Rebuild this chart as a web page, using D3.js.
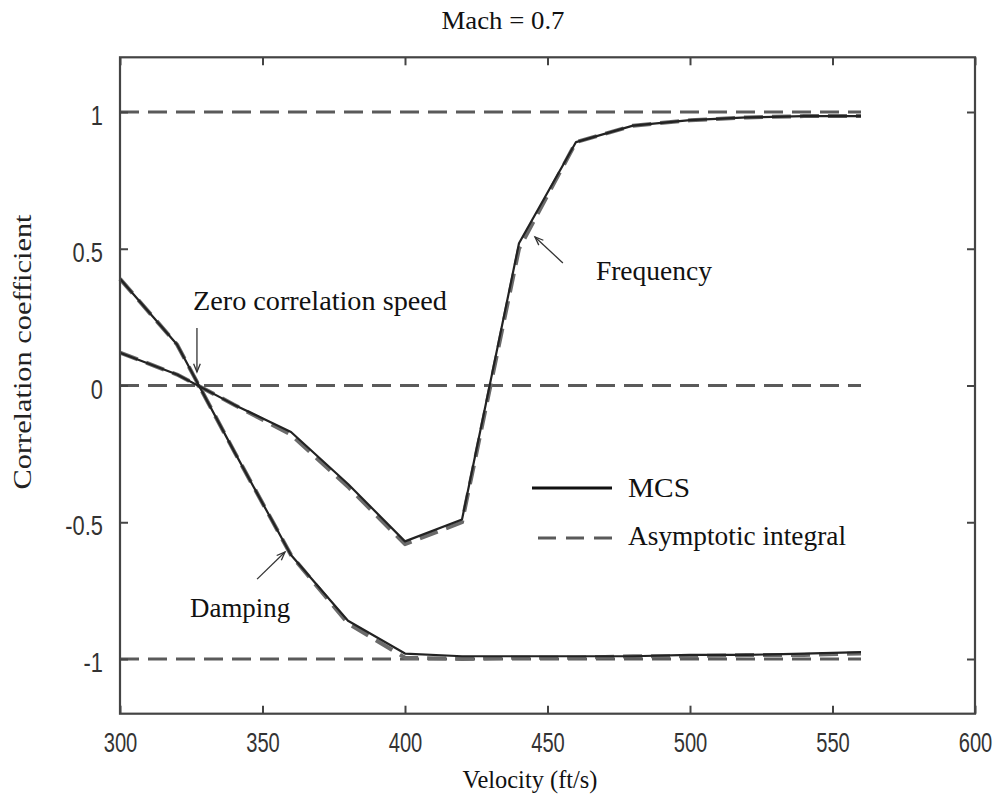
<!DOCTYPE html>
<html>
<head>
<meta charset="utf-8">
<script src="https://cdn.jsdelivr.net/npm/d3@7"></script>
<style>
  html, body { margin: 0; padding: 0; background: #fff; }
  svg { display: block; }
</style>
</head>
<body>
<svg id="chart" width="996" height="799"></svg>
<script>
// ---- data ----
const velocity = [300, 320, 340, 360, 380, 400, 420, 440, 460, 480, 500, 520, 540, 560];
const freqMCS  = [0.12, 0.04, -0.07, -0.17, -0.36, -0.57, -0.49, 0.52, 0.89, 0.95, 0.97, 0.98, 0.985, 0.985];
const freqAsym = [0.12, 0.04, -0.07, -0.18, -0.37, -0.58, -0.50, 0.50, 0.89, 0.95, 0.97, 0.98, 0.985, 0.985];
const dampMCS  = [0.39, 0.15, -0.24, -0.62, -0.86, -0.98, -0.99, -0.99, -0.99, -0.99, -0.985, -0.985, -0.98, -0.975];
const dampAsym = [0.39, 0.15, -0.24, -0.62, -0.87, -0.995, -1.0, -0.995, -0.995, -0.99, -0.99, -0.985, -0.985, -0.98];
const refLevels = [1, 0, -1];
const refRange = [300, 560];
const xTicks = [300, 350, 400, 450, 500, 550, 600];
const yTicks = [-1, -0.5, 0, 0.5, 1];
const yTickLabels = ["-1", "-0.5", "0", "0.5", "1"];
const titleText = "Mach = 0.7";
const xLabel = "Velocity (ft/s)";
const yLabel = "Correlation coefficient";
const seriesNames = ["MCS", "Asymptotic integral"];
// annotations in data coordinates
const annotations = [
  { text: "Zero correlation speed", x: 325.6, y: 0.276, ax0: 327, ay0: 0.21, ax1: 327, ay1: 0.049, w: 254 },
  { text: "Frequency", x: 467.0, y: 0.386, ax0: 455.4, ay0: 0.448, ax1: 445.6, ay1: 0.543, w: 116 },
  { text: "Damping", x: 324.6, y: -0.847, ax0: 348.1, ay0: -0.708, ax1: 357.9, ay1: -0.609, w: 100 }
];

// ---- layout ----
const svg = d3.select("#chart");
const L = 120, T = 57.3, R = 975, B = 713.7;
const x = d3.scaleLinear().domain([300, 600]).range([L, R]);
const y = d3.scaleLinear().domain([-1.2, 1.2]).range([B, T]);

const serif = "'Liberation Serif', 'Times New Roman', serif";
const sans = "'Liberation Sans', Arial, sans-serif";
const frameColor = "#444";

// reference dashed lines
svg.append("g").selectAll("line").data(refLevels).join("line")
  .attr("x1", x(refRange[0])).attr("x2", x(refRange[1]))
  .attr("y1", d => y(d)).attr("y2", d => y(d))
  .attr("stroke", "#5a5a5a").attr("stroke-width", 3)
  .attr("stroke-dasharray", "19,9");

const line = d3.line().x((d, i) => x(velocity[i])).y(d => y(d));

// asymptotic integral (gray dashed, underneath)
[freqAsym, dampAsym].forEach(s => {
  svg.append("path").attr("d", line(s))
    .attr("fill", "none").attr("stroke", "#6a6a6a").attr("stroke-width", 4)
    .attr("stroke-dasharray", "19,9").attr("stroke-linejoin", "round");
});
// MCS (solid dark)
[freqMCS, dampMCS].forEach(s => {
  svg.append("path").attr("d", line(s))
    .attr("fill", "none").attr("stroke", "#222").attr("stroke-width", 2.2)
    .attr("stroke-linejoin", "round");
});

// axes with inward ticks
const gx = svg.append("g").attr("transform", `translate(0,${B})`)
  .call(d3.axisBottom(x).tickValues(xTicks).tickFormat(d3.format("d"))
        .tickSizeInner(-8).tickSizeOuter(0).tickPadding(18));
const gxt = svg.append("g").attr("transform", `translate(0,${T})`)
  .call(d3.axisTop(x).tickValues(xTicks).tickFormat("").tickSizeInner(-8).tickSizeOuter(0));
const gy = svg.append("g").attr("transform", `translate(${L},0)`)
  .call(d3.axisLeft(y).tickValues(yTicks).tickFormat((d, i) => yTickLabels[i])
        .tickSizeInner(-8).tickSizeOuter(0).tickPadding(22));
const gyr = svg.append("g").attr("transform", `translate(${R},0)`)
  .call(d3.axisRight(y).tickValues(yTicks).tickFormat("").tickSizeInner(-8).tickSizeOuter(0));

[gx, gxt, gy, gyr].forEach(g => {
  g.select(".domain").remove();
  g.selectAll(".tick line").attr("stroke", frameColor).attr("stroke-width", 2);
});
gx.selectAll(".tick text").attr("font-family", sans).attr("font-size", 28).attr("font-weight", 300)
  .attr("fill", "#333").attr("transform", "scale(0.72,1)");
gy.selectAll(".tick text").attr("font-family", sans).attr("font-size", 28).attr("font-weight", 300)
  .attr("fill", "#333").attr("dy", "0.45em").attr("transform", "scale(0.78,1)");

// frame
svg.append("rect").attr("x", L).attr("y", T).attr("width", R - L).attr("height", B - T)
  .attr("fill", "none").attr("stroke", frameColor).attr("stroke-width", 2.2);

// title and axis labels
svg.append("text").attr("x", 503).attr("y", 29).attr("text-anchor", "middle")
  .attr("font-family", serif).attr("font-size", 26).attr("fill", "#111")
  .attr("textLength", 123).attr("lengthAdjust", "spacingAndGlyphs").text(titleText);
svg.append("text").attr("x", 530).attr("y", 788).attr("text-anchor", "middle")
  .attr("font-family", serif).attr("font-size", 25).attr("fill", "#111")
  .attr("textLength", 135).attr("lengthAdjust", "spacingAndGlyphs").text(xLabel);
svg.append("text").attr("transform", "translate(31,352) rotate(-90)").attr("text-anchor", "middle")
  .attr("font-family", serif).attr("font-size", 25).attr("fill", "#222")
  .attr("textLength", 275).attr("lengthAdjust", "spacingAndGlyphs").text(yLabel);

// annotations
const ann = svg.append("g");
annotations.forEach(a => {
  ann.append("text").attr("x", x(a.x)).attr("y", y(a.y))
    .attr("font-family", serif).attr("font-size", 27).attr("fill", "#111")
    .attr("textLength", a.w).attr("lengthAdjust", "spacingAndGlyphs").text(a.text);
  const x0 = x(a.ax0), y0 = y(a.ay0), x1 = x(a.ax1), y1 = y(a.ay1);
  ann.append("line").attr("x1", x0).attr("y1", y0).attr("x2", x1).attr("y2", y1)
    .attr("stroke", "#333").attr("stroke-width", 1.3);
  const ang = Math.atan2(y1 - y0, x1 - x0), hl = 9, spread = 0.38;
  const p = t => [x1 - hl * Math.cos(ang + t), y1 - hl * Math.sin(ang + t)];
  const h1 = p(spread), h2 = p(-spread);
  ann.append("path").attr("d", `M${h1[0]},${h1[1]}L${x1},${y1}L${h2[0]},${h2[1]}`)
    .attr("fill", "none").attr("stroke", "#333").attr("stroke-width", 1.3);
});

// legend
const lg = svg.append("g");
lg.append("line").attr("x1", 532).attr("x2", 612).attr("y1", 488).attr("y2", 488)
  .attr("stroke", "#111").attr("stroke-width", 3);
lg.append("line").attr("x1", 538).attr("x2", 612).attr("y1", 538).attr("y2", 538)
  .attr("stroke", "#5a5a5a").attr("stroke-width", 3).attr("stroke-dasharray", "18,10");
lg.append("text").attr("x", 628).attr("y", 497).attr("font-family", serif).attr("font-size", 27)
  .attr("fill", "#111").attr("textLength", 62).attr("lengthAdjust", "spacingAndGlyphs").text(seriesNames[0]);
lg.append("text").attr("x", 628).attr("y", 545).attr("font-family", serif).attr("font-size", 27)
  .attr("fill", "#111").attr("textLength", 218).attr("lengthAdjust", "spacingAndGlyphs").text(seriesNames[1]);
</script>
</body>
</html>
